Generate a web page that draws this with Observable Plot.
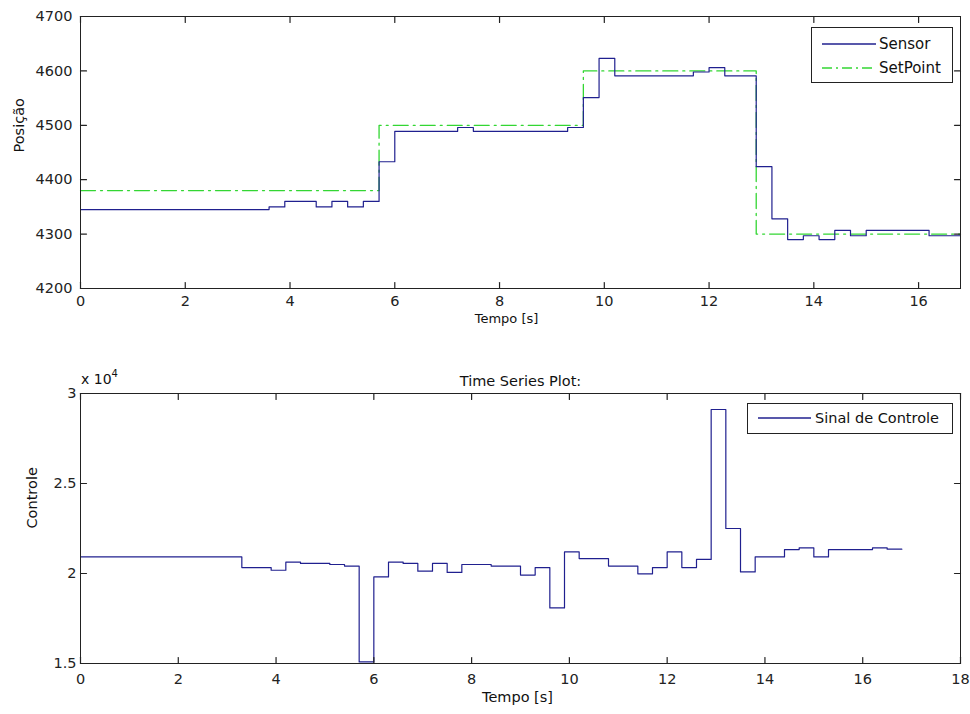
<!DOCTYPE html>
<html><head><meta charset="utf-8">
<script src="https://cdn.jsdelivr.net/npm/d3@7"></script>
<script src="https://cdn.jsdelivr.net/npm/@observablehq/plot@0.6"></script>
<style>
body{margin:0;background:#fff;font-family:"DejaVu Sans",sans-serif;color:#111;}
#wrap{position:relative;width:970px;height:714px;overflow:hidden;}
.chart{position:absolute;left:0;}
.legend{position:absolute;border:1px solid #222;background:#fff;box-sizing:border-box;}
.legend .row{position:absolute;left:0;right:0;height:20px;}
.legend svg{position:absolute;top:0;}
.legend span{position:absolute;white-space:nowrap;line-height:20px;top:0;}
.ann{position:absolute;white-space:nowrap;}
</style></head><body><div id="wrap"></div>
<script>
// ---- Data ----
const sensorT = [0, 3.6, 3.9, 4.5, 4.8, 5.1, 5.4, 5.7, 6.0, 7.2, 7.5, 9.3, 9.6, 9.9, 10.2, 11.7, 12.0, 12.3, 12.9, 13.2, 13.5, 13.8, 14.1, 14.4, 14.7, 15.0, 16.2, 16.8];
const sensorV = [4345, 4350, 4360, 4350, 4360, 4350, 4360, 4433, 4489, 4496, 4489, 4496, 4551, 4623, 4591, 4598, 4606, 4591, 4424, 4328, 4290, 4297, 4290, 4307, 4297, 4307, 4297, 4297];
const setT = [0, 5.7, 9.6, 12.9, 16.8];
const setV = [4380, 4500, 4600, 4300, 4300];
const ctrlT = [0, 3.3, 3.9, 4.2, 4.5, 5.1, 5.4, 5.7, 6.0, 6.3, 6.6, 6.9, 7.2, 7.5, 7.8, 8.4, 9.0, 9.3, 9.6, 9.9, 10.2, 10.8, 11.4, 11.7, 12.0, 12.3, 12.6, 12.9, 13.2, 13.5, 13.8, 14.4, 14.7, 15.0, 15.3, 16.2, 16.5, 16.8];
const ctrlV = [20920, 20330, 20180, 20630, 20560, 20500, 20410, 15090, 19810, 20630, 20560, 20130, 20560, 20060, 20500, 20410, 19910, 20330, 18090, 21200, 20830, 20410, 19980, 20330, 21200, 20330, 20780, 29110, 22500, 20090, 20920, 21330, 21420, 20920, 21330, 21420, 21350, 21350];
const topXTicks = [0, 2, 4, 6, 8, 10, 12, 14, 16];
const topYTicks = [4200, 4300, 4400, 4500, 4600, 4700];
const botXTicks = [0, 2, 4, 6, 8, 10, 12, 14, 16, 18];
const botYTicks = [15000, 20000, 25000, 30000];
const seriesNames = ["Sensor", "SetPoint", "Sinal de Controle"];

// ---- Build ----
const blue = "#20208f", green = "#33d633", axisC = "#222";
const font = "DejaVu Sans";
const sensor = sensorT.map((t, i) => ({t, v: sensorV[i]}));
const setpoint = setT.map((t, i) => ({t, v: setV[i]}));
const control = ctrlT.map((t, i) => ({t, v: ctrlV[i]}));
const dash = "15,5,2,5";
const wrap = document.getElementById("wrap");
const TL = 6; // inward tick length (px)

// inward MATLAB-style ticks on all four sides, drawn as short segments through the scales
function boxTicks(xt, yt, xd, yd, pw, ph) {
  const dy = TL * (yd[1] - yd[0]) / ph, dx = TL * (xd[1] - xd[0]) / pw;
  const segs = [];
  xt.forEach((x, i) => {
    segs.push({g: "b" + i, x, y: yd[0]}, {g: "b" + i, x, y: yd[0] + dy});
    segs.push({g: "t" + i, x, y: yd[1] - dy}, {g: "t" + i, x, y: yd[1]});
  });
  yt.forEach((y, i) => {
    segs.push({g: "l" + i, x: xd[0], y}, {g: "l" + i, x: xd[0] + dx, y});
    segs.push({g: "r" + i, x: xd[1] - dx, y}, {g: "r" + i, x: xd[1], y});
  });
  return [Plot.line(segs, {x: "x", y: "y", z: "g", stroke: axisC, strokeWidth: 1.2})];
}

const W = 970, mL = 80, mR = 10;
const pw = W - mL - mR;

const topH = 330, topMT = 16, topMB = 42;
const topXD = [0, 16.8], topYD = [4200, 4700];
const topChart = Plot.plot({
  width: W, height: topH,
  marginLeft: mL, marginRight: mR, marginTop: topMT, marginBottom: topMB,
  style: {fontFamily: font, fontSize: "14.5px", background: "transparent", color: axisC, overflow: "visible"},
  x: {domain: topXD},
  y: {domain: topYD},
  marks: [
    Plot.line(setpoint, {x: "t", y: "v", curve: "step-after", stroke: green, strokeWidth: 1.3, strokeDasharray: dash}),
    Plot.line(sensor, {x: "t", y: "v", curve: "step-after", stroke: blue, strokeWidth: 1.2}),
    Plot.frame({stroke: axisC}),
    ...boxTicks(topXTicks, topYTicks, topXD, topYD, pw, topH - topMT - topMB),
    Plot.axisX({anchor: "bottom", ticks: topXTicks, tickSize: 0, tickPadding: 7, tickFormat: d => String(d), label: null}),
    Plot.axisY({anchor: "left", ticks: topYTicks, tickSize: 0, tickPadding: 8, tickFormat: d => String(d), label: null}),
    Plot.text(["Tempo [s]"], {text: d => d, frameAnchor: "bottom", dy: 34, dx: -14, fontSize: 13, fill: "#111"}),
    Plot.text(["Posição"], {text: d => d, frameAnchor: "left", dx: -61, rotate: -90, fontSize: 14.5, fill: "#111"})
  ]
});
topChart.classList.add("chart");
topChart.style.top = "0px";
wrap.appendChild(topChart);

const botH = 384, botMT = 63, botMB = 51;
const botXD = [0, 18], botYD = [15000, 30000];
const botChart = Plot.plot({
  width: W, height: botH,
  marginLeft: mL, marginRight: mR, marginTop: botMT, marginBottom: botMB,
  style: {fontFamily: font, fontSize: "14.5px", background: "transparent", color: axisC, overflow: "visible"},
  x: {domain: botXD},
  y: {domain: botYD},
  marks: [
    Plot.line(control, {x: "t", y: "v", curve: "step-after", stroke: blue, strokeWidth: 1.2}),
    Plot.frame({stroke: axisC}),
    ...boxTicks(botXTicks, botYTicks, botXD, botYD, pw, botH - botMT - botMB),
    Plot.axisX({anchor: "bottom", ticks: botXTicks, tickSize: 0, tickPadding: 10, tickFormat: d => String(d), label: null}),
    Plot.axisY({anchor: "left", ticks: botYTicks, tickSize: 0, tickPadding: 4, tickFormat: d => String(d / 1e4), label: null}),
    Plot.text(["Time Series Plot:"], {text: d => d, frameAnchor: "top", dy: -18, fontSize: 14.5, fill: "#111"}),
    Plot.text(["Tempo [s]"], {text: d => d, frameAnchor: "bottom", dy: 38, dx: -3, fontSize: 14.5, fill: "#111"}),
    Plot.text(["Controle"], {text: d => d, frameAnchor: "left", dx: -48, rotate: -90, fontSize: 14.5, fill: "#111"})
  ]
});
botChart.classList.add("chart");
botChart.style.top = "330px";
wrap.appendChild(botChart);

// ---- Legends & exponent annotation ----
function legend(left, top, width, height, items, lineX1, lineX2, textX, rowTops, fontSize) {
  const box = document.createElement("div");
  box.className = "legend";
  Object.assign(box.style, {left: left + "px", top: top + "px", width: width + "px", height: height + "px", fontSize: fontSize + "px"});
  items.forEach((it, i) => {
    const row = document.createElement("div");
    row.className = "row";
    row.style.top = rowTops[i] + "px";
    row.innerHTML = `<svg width="${width}" height="20"><line x1="${lineX1}" x2="${lineX2}" y1="10" y2="10" stroke="${it.color}" stroke-width="1.3" ${it.dash ? `stroke-dasharray="${it.dash}"` : ""}/></svg><span style="left:${textX}px">${it.name}</span>`;
    box.appendChild(row);
  });
  wrap.appendChild(box);
}
legend(811, 27, 142, 56, [{name: seriesNames[0], color: blue}, {name: seriesNames[1], color: green, dash: "10,4,2,4"}], 10, 64, 67, [6, 30], 15);
legend(747, 403, 206, 31, [{name: seriesNames[2], color: blue}], 10, 63, 67, [4], 14.5);

const ex = document.createElement("div");
ex.className = "ann";
Object.assign(ex.style, {left: "81px", top: "371px", fontSize: "14px", lineHeight: "16px"});
ex.innerHTML = 'x 10<span style="position:relative;top:-7px;font-size:10px">4</span>';
wrap.appendChild(ex);
</script></body></html>
